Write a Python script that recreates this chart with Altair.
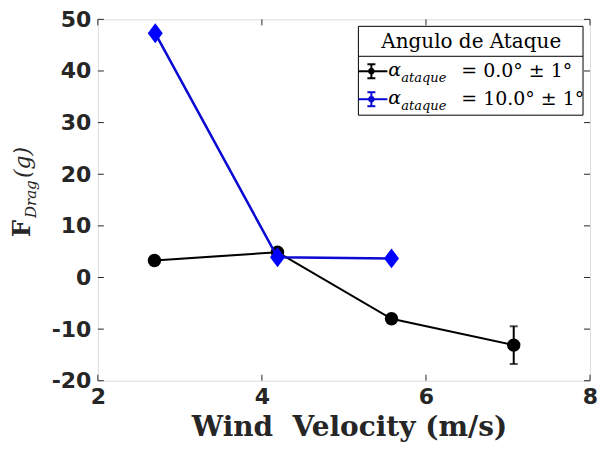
import altair as alt
import pandas as pd

# ---- data ----
x_a0 = [2.69, 4.19, 5.58, 7.07]
y_a0 = [3.3, 4.9, -8.0, -13.1]
e_a0 = [0.4, 0.4, 0.4, 3.65]

x_a10 = [2.70, 4.19, 5.58]
y_a10 = [47.3, 3.9, 3.7]
e_a10 = [0.4, 0.4, 0.4]

x_ticks = [2, 4, 6, 8]
y_ticks = [-20, -10, 0, 10, 20, 30, 40, 50]

BLACK = "#000000"
BLUE = "#0000ff"
BLUE_LINE = "#0a0ad2"
FRAME = "#262626"
W, H = 493, 362

def series_df(xs, ys, es, name):
    return pd.DataFrame({
        "x": xs, "y": ys,
        "lo": [v - e for v, e in zip(ys, es)],
        "hi": [v + e for v, e in zip(ys, es)],
        "s": name,
    })

d0 = series_df(x_a0, y_a0, e_a0, "0")
d10 = series_df(x_a10, y_a10, e_a10, "10")

xs = alt.Scale(domain=[2, 8], nice=False, zero=False)
ys = alt.Scale(domain=[-20, 50], nice=False, zero=False)

lab = dict(ticks=False, domain=False, grid=False, title=None,
           labelFont="DejaVu Sans", labelFontWeight="bold", labelFontSize=22,
           labelColor=FRAME, labelFlush=False, labelExpr="'' + datum.value")
X = alt.X("x:Q", scale=xs, axis=alt.Axis(values=x_ticks, labelPadding=6, **lab))
Y = alt.Y("y:Q", scale=ys, axis=alt.Axis(values=y_ticks, labelPadding=7, **lab))

def series_layers(df, color, line_color, shape, size, lw):
    base = alt.Chart(df)
    line = base.mark_line(color=line_color, strokeWidth=lw).encode(x=X, y=Y)
    bar = base.mark_rule(color=line_color, strokeWidth=2).encode(x="x:Q", y="lo:Q", y2="hi:Q")
    cap_lo = base.mark_tick(color=line_color, orient="horizontal", size=8, thickness=2).encode(
        x="x:Q", y="lo:Q")
    cap_hi = base.mark_tick(color=line_color, orient="horizontal", size=8, thickness=2).encode(
        x="x:Q", y="hi:Q")
    pts = base.mark_point(shape=shape, filled=True, color=color, size=size, opacity=1).encode(
        x="x:Q", y="y:Q")
    return [line, bar, cap_lo, cap_hi, pts]

diamond = "M0,-1L0.75,0L0,1L-0.75,0Z"
layers = []
layers += series_layers(d0, BLACK, BLACK, "circle", 180, 2)
layers += series_layers(d10, BLUE, BLUE_LINE, diamond, 400, 2.5)

# inner ticks on all four sides
xt = pd.DataFrame({"x": x_ticks})
yt = pd.DataFrame({"y": y_ticks})
tick_style = dict(color=FRAME, strokeWidth=1)
layers.append(alt.Chart(xt).mark_rule(**tick_style).encode(x="x:Q", y=alt.value(H), y2=alt.value(H - 6)))
layers.append(alt.Chart(xt).mark_rule(**tick_style).encode(x="x:Q", y=alt.value(0), y2=alt.value(6)))
layers.append(alt.Chart(yt).mark_rule(**tick_style).encode(y="y:Q", x=alt.value(0), x2=alt.value(6)))
layers.append(alt.Chart(yt).mark_rule(**tick_style).encode(y="y:Q", x=alt.value(W), x2=alt.value(W - 6)))

one = pd.DataFrame({"k": [0]})

def txt(text, x, y, size, font="DejaVu Serif", style="normal", weight="normal", align="left",
        angle=0, color="#000000"):
    return alt.Chart(one).mark_text(text=text, font=font, fontSize=size, fontStyle=style,
                                    fontWeight=weight, align=align, baseline="alphabetic",
                                    angle=angle, color=color).encode(x=alt.value(x), y=alt.value(y))

def hline(x1, x2, y, color, w):
    return alt.Chart(one).mark_rule(color=color, strokeWidth=w).encode(
        x=alt.value(x1), x2=alt.value(x2), y=alt.value(y))

def vline(x, y1, y2, color, w):
    return alt.Chart(one).mark_rule(color=color, strokeWidth=w).encode(
        x=alt.value(x), y=alt.value(y1), y2=alt.value(y2))

# ---- legend ----
LX1, LX2, LY1, LY2 = 261, 486, 7, 96
layers.append(alt.Chart(one).mark_rect(fill="white", stroke="#000000", strokeWidth=1).encode(
    x=alt.value(LX1), x2=alt.value(LX2), y=alt.value(LY1), y2=alt.value(LY2)))
layers.append(hline(LX1, LX2, 37, "#000000", 1))
layers.append(txt("Angulo de Ataque", 374, 29, 20, align="center"))

for cy, col, val in [(52, BLACK, "0.0"), (80, BLUE_LINE, "10.0")]:
    layers.append(hline(LX1, 290, cy, col, 2))
    layers.append(vline(274, cy - 7, cy + 7, col, 2))
    layers.append(hline(270, 278, cy - 7, col, 2))
    layers.append(hline(270, 278, cy + 7, col, 2))
    layers.append(alt.Chart(one).mark_point(shape="circle", filled=True, color=col, size=40, opacity=1).encode(
        x=alt.value(274), y=alt.value(cy)))
    layers.append(txt("α", 291, cy + 5, 19, style="italic"))
    layers.append(txt("ataque", 304, cy + 11, 13, style="italic"))
    layers.append(txt("=\u00a0" + val + "°\u00a0±\u00a01°", 364, cy + 6, 19))

# ---- axis titles ----
layers.append(txt("Wind\u00a0\u00a0Velocity\u00a0(m/s)", 252, 417, 28, weight="bold", align="center", color=FRAME))
layers.append(txt("F", -68, 218, 24, weight="bold", angle=270, color=FRAME))
layers.append(txt("Drag", -62, 199, 15, style="italic", angle=270, color=FRAME))
layers.append(txt("(g)", -68, 159, 22, style="italic", angle=270, color=FRAME))

chart = alt.layer(*layers).properties(
    width=W, height=H,
    padding={"left": 90, "top": 11, "right": 7, "bottom": 66},
    autosize=alt.AutoSizeParams(type="none"),
).configure_view(stroke=FRAME, strokeWidth=1).configure(background="white")

chart.save("out.html", embed_options={"renderer": "svg", "actions": False})
